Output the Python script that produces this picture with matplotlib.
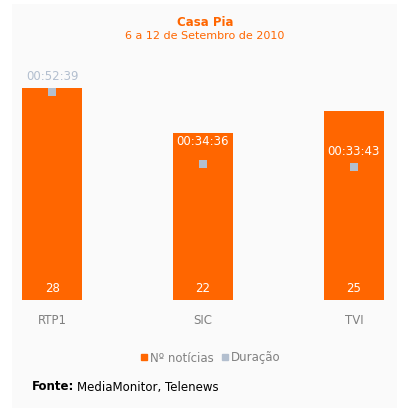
# Casa Pia - Nº notícias e duração por canal

import matplotlib.pyplot as plt
from matplotlib.lines import Line2D

# Daten
canais = ['RTP1', 'SIC', 'TVI']
noticias = [28, 22, 25]
duracao = ['00:52:39', '00:34:36', '00:33:43']

# Dauer in Sekunden umrechnen
def em_segundos(txt):
    h, m, s = [int(v) for v in txt.split(':')]
    return h * 3600 + m * 60 + s

duracao_seg = [em_segundos(d) for d in duracao]

laranja = '#FF6600'
cinza_azul = '#B3BFCF'

fig = plt.figure(figsize=(3.97, 4.08), dpi=100)
fig.patch.set_facecolor('white')

# Hintergrundfläche
bg = fig.add_axes([12 / 397, 0, 385 / 397, 404 / 408], zorder=-1)
bg.axis('off')
bg.add_patch(plt.Rectangle((0, 0), 1, 1, transform=bg.transAxes, color='#FAFAFA'))

ax = fig.add_axes([22 / 397, 108 / 408, 362 / 397, 240 / 408], zorder=1)
ax.patch.set_alpha(0)
x = list(range(len(canais)))
ax.bar(x, noticias, width=0.4, color=laranja)
ax.set_xlim(-0.2, 2.2)
ax.set_ylim(0, 28 * 240 / 212)
ax.axis('off')

for xi, n in zip(x, noticias):
    ax.annotate(str(n), (xi, 0), xytext=(0, 8), textcoords='offset points',
                ha='center', va='center', color='white', fontsize=8.5)

for xi, c in zip(x, canais):
    ax.annotate(c, (xi, 0), xytext=(0, -14.5), textcoords='offset points',
                ha='center', va='center', color='#808080', fontsize=8.5)

# Zweite Achse für die Dauer
ax2 = ax.twinx()
ax2.set_ylim(0, 3159 * 240 / 207.5)
ax2.axis('off')
ax2.scatter(x, duracao_seg, marker='s', s=28, color=cinza_azul, zorder=3, linewidths=0)

offsets = [11.5, 16, 11.5]
cores = [cinza_azul, 'white', 'white']
for xi, s, txt, off, cor in zip(x, duracao_seg, duracao, offsets, cores):
    ax2.annotate(txt, (xi, s), xytext=(0, off), textcoords='offset points',
                 ha='center', va='center', color=cor, fontsize=8.5)

# Titel
fig.text(205 / 397, 1 - 23 / 408, 'Casa Pia', ha='center', va='center',
         color=laranja, fontsize=8.5, fontweight='bold')
fig.text(205 / 397, 1 - 36 / 408, '6 a 12 de Setembro de 2010', ha='center', va='center',
         color=laranja, fontsize=8)

# Legende
handles = [Line2D([], [], marker='s', linestyle='none', color=laranja, markersize=4.5),
           Line2D([], [], marker='s', linestyle='none', color=cinza_azul, markersize=4.5)]
fig.legend(handles, ['Nº notícias', 'Duração'], loc='center', bbox_to_anchor=(210 / 397, 1 - 358 / 408),
           ncol=2, frameon=False, fontsize=8.5, handletextpad=0.05, columnspacing=0.6,
           handlelength=0.8, labelcolor='#808080')

# Quelle
fig.text(32 / 397, 1 - 387 / 408, 'Fonte:', ha='left', va='center',
         color='black', fontsize=8.5, fontweight='bold')
fig.text(77 / 397, 1 - 387 / 408, 'MediaMonitor, Telenews', ha='left', va='center',
         color='black', fontsize=8.5)

plt.savefig('out.png', dpi=100)
